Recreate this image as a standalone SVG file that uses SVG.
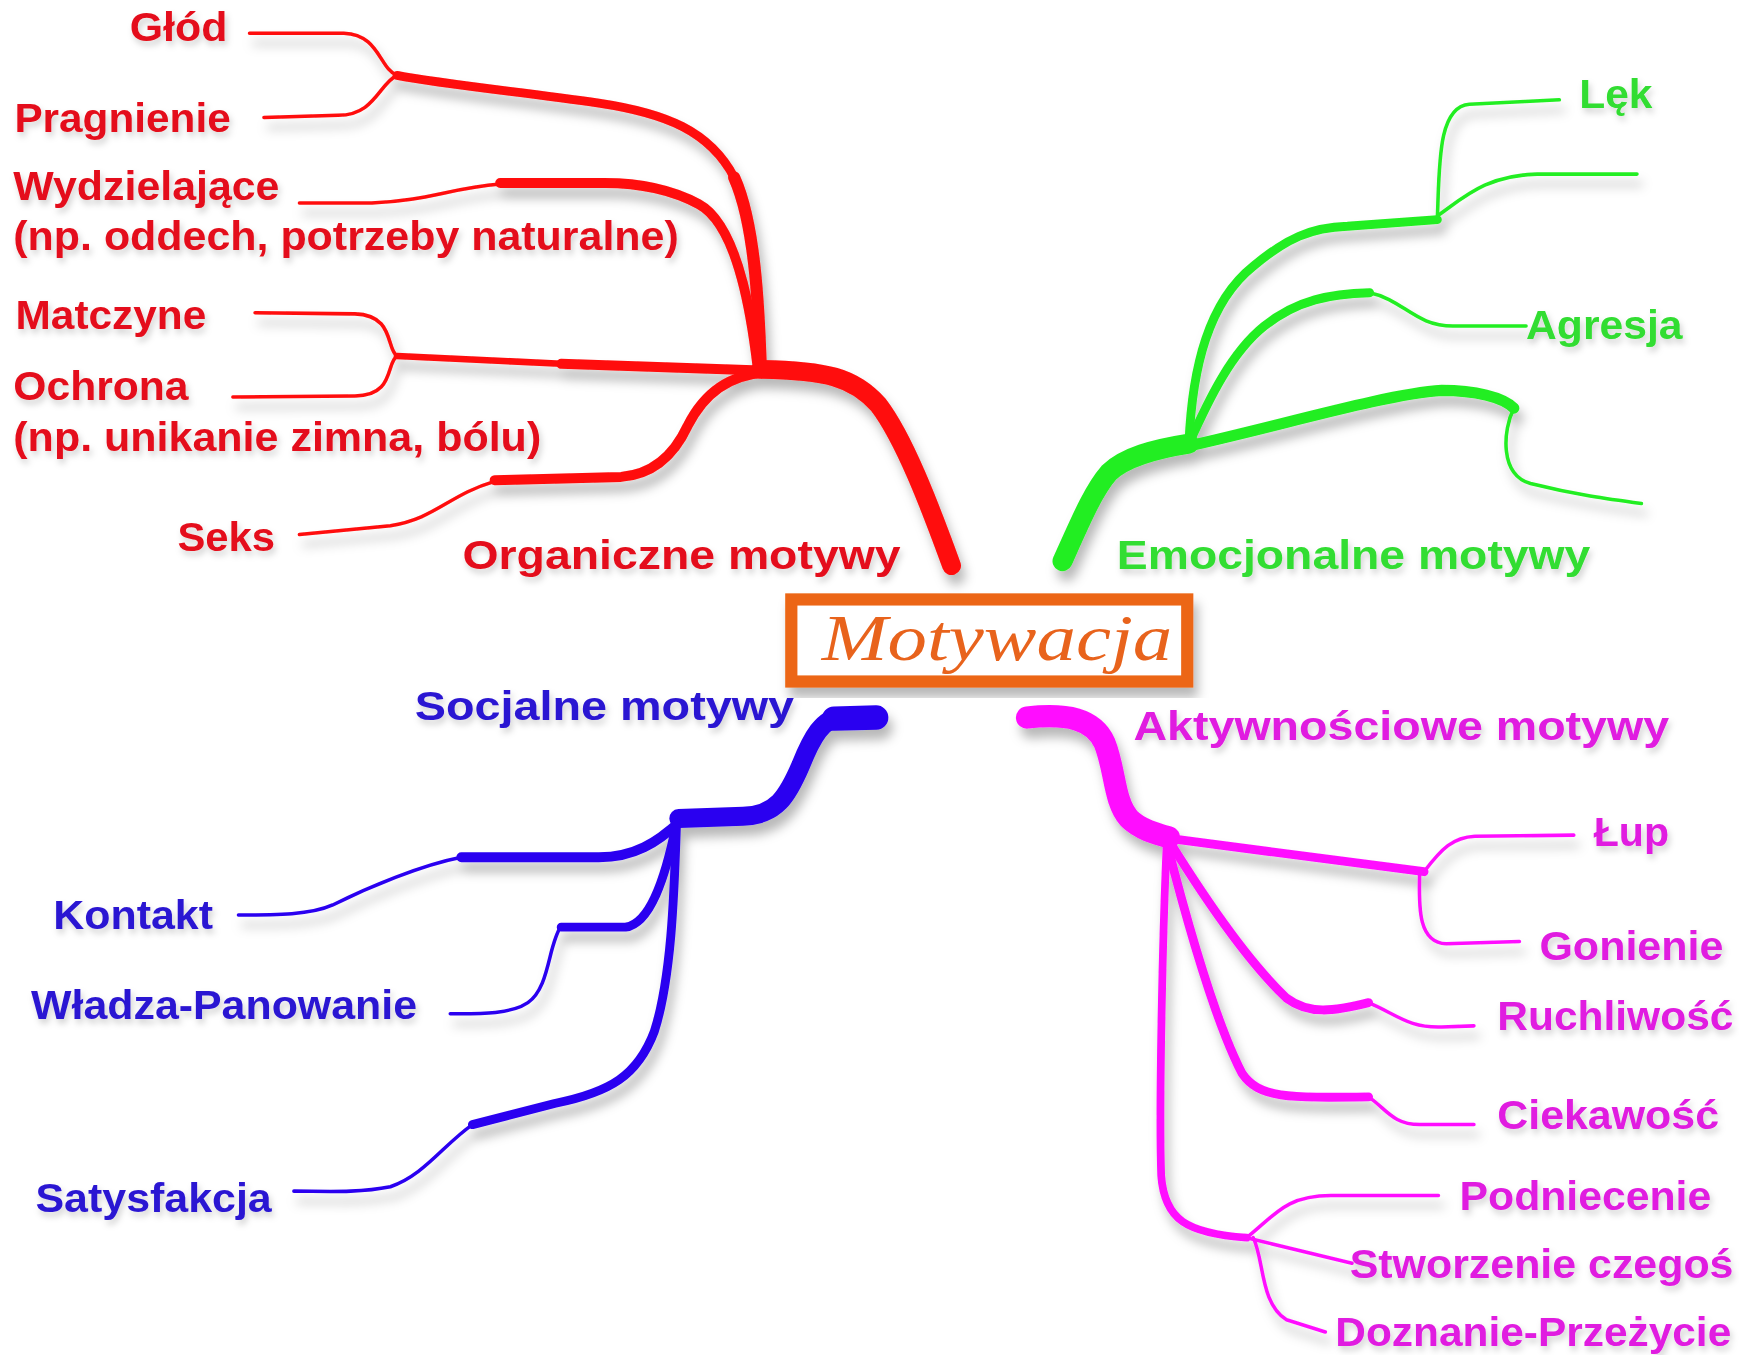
<svg xmlns="http://www.w3.org/2000/svg" width="1739" height="1355" viewBox="0 0 1739 1355">
<defs>
<filter id="sh" x="-20%" y="-20%" width="140%" height="140%">
<feDropShadow dx="4" dy="9" stdDeviation="5" flood-color="#000" flood-opacity="0.28"/>
</filter>
<filter id="tsh" x="-10%" y="-30%" width="120%" height="160%">
<feDropShadow dx="2" dy="4" stdDeviation="3" flood-color="#000" flood-opacity="0.18"/>
</filter>
</defs>
<style>
.l{fill:none;stroke-linecap:round;stroke-linejoin:round}
.r{stroke:#ff0a0a}.g{stroke:#22ee22}.b{stroke:#2a00f0}.m{stroke:#ff10ff}
.t{font-family:"Liberation Sans",Arial,sans-serif;font-weight:bold;font-size:36px;filter:url(#tsh)}
.tr{fill:#e4101a}.tg{fill:#30dd30}.tb{fill:#2a14d2}.tm{fill:#e01ce0}
.w3{stroke-width:3.2}
</style>
<rect width="1739" height="1355" fill="#ffffff"/>
<g transform="scale(1.10906)">
<g id="connectors" filter="url(#sh)">
<!-- red -->
<path class="l r" stroke-width="17" d="M858,510 C838,455 815,395 792,365 C770,340 745,334 686,333"/>
<path class="l r" stroke-width="11" d="M686,333 C684,270 680,200 662,160"/>
<path class="l r" stroke-width="8" d="M662,160 C640,118 600,102 540,93 C470,83 400,76 358,68"/>
<path class="l r w3" d="M358,68 C342,62 342,31 310,30 L225,30"/>
<path class="l r w3" d="M358,68 C342,75 338,104 305,104 L238,106"/>
<path class="l r" stroke-width="9" d="M683,330 C675,262 660,200 630,184 C602,169 572,165 545,165 L451,165"/>
<path class="l r w3" d="M451,166 C405,170 385,181 335,183 L270,183"/>
<path class="l r" stroke-width="9" d="M686,334 L506,328"/>
<path class="l r" stroke-width="6" d="M506,328 L358,321"/>
<path class="l r w3" d="M358,321 C348,315 356,284 320,283 L230,282"/>
<path class="l r w3" d="M358,321 C348,327 356,357 320,357 L210,358"/>
<path class="l r" stroke-width="9" d="M690,336 C652,338 632,360 620,384 C606,414 586,428 560,430 L446,433"/>
<path class="l r w3" d="M446,434 C405,446 392,468 352,474 L270,482"/>
<!-- green -->
<path class="l g" stroke-width="18" d="M958,506 C975,468 986,442 1000,426 C1015,412 1040,405 1072,400"/>
<path class="l g" stroke-width="8" d="M1072,400 C1075,330 1090,272 1130,240 C1160,215 1182,205 1215,204 L1296,198"/>
<path class="l g w3" d="M1296,197 C1298,150 1296,96 1325,94 L1406,90"/>
<path class="l g w3" d="M1297,194 C1320,178 1340,158 1386,157 L1476,157"/>
<path class="l g" stroke-width="8" d="M1072,400 C1090,360 1110,318 1140,294 C1170,270 1200,265 1235,264"/>
<path class="l g w3" d="M1235,264 C1265,270 1276,294 1310,294 L1376,294"/>
<path class="l g" stroke-width="10" d="M1072,402 C1150,385 1250,355 1300,352 C1330,352 1355,358 1365,368"/>
<path class="l g w3" d="M1365,368 C1355,388 1352,428 1380,436 C1420,446 1450,450 1480,454"/>
<!-- blue -->
<path class="l b" stroke-width="22" d="M790,647 L752,648"/>
<path class="l b" stroke-width="17" d="M758,647 C742,647 732,665 722,690 C710,718 700,735 670,736 L612,738"/>
<path class="l b" stroke-width="9" d="M614,740 C592,760 572,773 540,773 L416,773"/>
<path class="l b w3" d="M416,773 C380,780 332,800 300,816 C280,825 250,825 215,825"/>
<path class="l b" stroke-width="8" d="M610,742 C600,792 586,833 564,836 L506,836"/>
<path class="l b w3" d="M506,835 C494,852 496,890 476,904 C460,915 430,914 406,914"/>
<path class="l b" stroke-width="8" d="M610,742 C608,800 606,880 590,930 C575,970 550,985 500,995 L426,1014"/>
<path class="l b w3" d="M426,1014 C400,1032 382,1060 352,1070 C322,1076 292,1074 265,1074"/>
<!-- magenta -->
<path class="l m" stroke-width="20" d="M926,647 C962,643 986,648 996,670 C1006,695 1004,722 1018,738 C1028,748 1043,752 1054,755"/>
<path class="l m" stroke-width="8" d="M1054,756 L1284,786"/>
<path class="l m w3" d="M1284,786 C1300,765 1310,755 1330,754 L1419,753"/>
<path class="l m w3" d="M1280,786 C1280,810 1276,850 1304,851 L1370,849"/>
<path class="l m" stroke-width="8" d="M1054,758 C1080,800 1120,862 1160,900 C1180,915 1202,912 1234,904"/>
<path class="l m w3" d="M1234,904 C1260,915 1270,927 1300,926 L1329,925"/>
<path class="l m" stroke-width="8" d="M1052,760 C1070,830 1095,920 1120,968 C1135,990 1160,990 1234,989"/>
<path class="l m w3" d="M1234,989 C1250,1000 1256,1014 1280,1014 L1329,1014"/>
<path class="l m" stroke-width="7" d="M1052,760 C1048,850 1045,1000 1047,1060 C1050,1100 1070,1112 1124,1116"/>
<path class="l m w3" d="M1124,1116 C1150,1095 1160,1078 1200,1078 L1297,1078"/>
<path class="l m w3" d="M1124,1116 L1219,1139"/>
<path class="l m w3" d="M1130,1116 C1140,1136 1136,1175 1160,1190 L1195,1201"/>
</g>
<g id="motywacja" filter="url(#sh)">
<rect x="713.5" y="540.5" width="357" height="74" fill="#ffffff" stroke="#ec6614" stroke-width="11"/>
<text x="741" y="595" font-family="'Liberation Serif',serif" font-style="italic" font-size="60" fill="#e8641e" textLength="316" lengthAdjust="spacingAndGlyphs">Motywacja</text>
</g>
<g id="organiczne">
<text class="t tr" x="417" y="513" textLength="395" lengthAdjust="spacingAndGlyphs">Organiczne motywy</text>
</g>
<g id="glod"><text class="t tr" x="117" y="37" textLength="88" lengthAdjust="spacingAndGlyphs">Głód</text></g>
<g id="pragnienie"><text class="t tr" x="13" y="119" textLength="195" lengthAdjust="spacingAndGlyphs">Pragnienie</text></g>
<g id="wydzielajace">
<text class="t tr" x="12" y="180" textLength="240" lengthAdjust="spacingAndGlyphs">Wydzielające</text>
<text class="t tr" x="12" y="225" textLength="600" lengthAdjust="spacingAndGlyphs">(np. oddech, potrzeby naturalne)</text>
</g>
<g id="matczyne"><text class="t tr" x="14" y="297" textLength="172" lengthAdjust="spacingAndGlyphs">Matczyne</text></g>
<g id="ochrona">
<text class="t tr" x="12" y="361" textLength="158" lengthAdjust="spacingAndGlyphs">Ochrona</text>
<text class="t tr" x="12" y="407" textLength="476" lengthAdjust="spacingAndGlyphs">(np. unikanie zimna, bólu)</text>
</g>
<g id="seks"><text class="t tr" x="160" y="497" textLength="88" lengthAdjust="spacingAndGlyphs">Seks</text></g>
<g id="emocjonalne"><text class="t tg" x="1007" y="513" textLength="427" lengthAdjust="spacingAndGlyphs">Emocjonalne motywy</text></g>
<g id="lek"><text class="t tg" x="1424" y="97" textLength="66" lengthAdjust="spacingAndGlyphs">Lęk</text></g>
<g id="agresja"><text class="t tg" x="1376" y="306" textLength="141" lengthAdjust="spacingAndGlyphs">Agresja</text></g>
<g id="socjalne"><text class="t tb" x="374" y="649" textLength="342" lengthAdjust="spacingAndGlyphs">Socjalne motywy</text></g>
<g id="kontakt"><text class="t tb" x="48" y="838" textLength="144" lengthAdjust="spacingAndGlyphs">Kontakt</text></g>
<g id="wladza"><text class="t tb" x="28" y="919" textLength="348" lengthAdjust="spacingAndGlyphs">Władza-Panowanie</text></g>
<g id="satysfakcja"><text class="t tb" x="32" y="1093" textLength="213" lengthAdjust="spacingAndGlyphs">Satysfakcja</text></g>
<g id="aktywnosciowe"><text class="t tm" x="1022" y="667" textLength="483" lengthAdjust="spacingAndGlyphs">Aktywnościowe motywy</text></g>
<g id="lup"><text class="t tm" x="1437" y="763" textLength="68" lengthAdjust="spacingAndGlyphs">Łup</text></g>
<g id="gonienie"><text class="t tm" x="1388" y="866" textLength="166" lengthAdjust="spacingAndGlyphs">Gonienie</text></g>
<g id="ruchliwosc"><text class="t tm" x="1350" y="929" textLength="213" lengthAdjust="spacingAndGlyphs">Ruchliwość</text></g>
<g id="ciekawosc"><text class="t tm" x="1350" y="1018" textLength="200" lengthAdjust="spacingAndGlyphs">Ciekawość</text></g>
<g id="podniecenie"><text class="t tm" x="1316" y="1091" textLength="227" lengthAdjust="spacingAndGlyphs">Podniecenie</text></g>
<g id="stworzenie"><text class="t tm" x="1217" y="1152" textLength="346" lengthAdjust="spacingAndGlyphs">Stworzenie czegoś</text></g>
<g id="doznanie"><text class="t tm" x="1204" y="1214" textLength="357" lengthAdjust="spacingAndGlyphs">Doznanie-Przeżycie</text></g>
</g>
</svg>
